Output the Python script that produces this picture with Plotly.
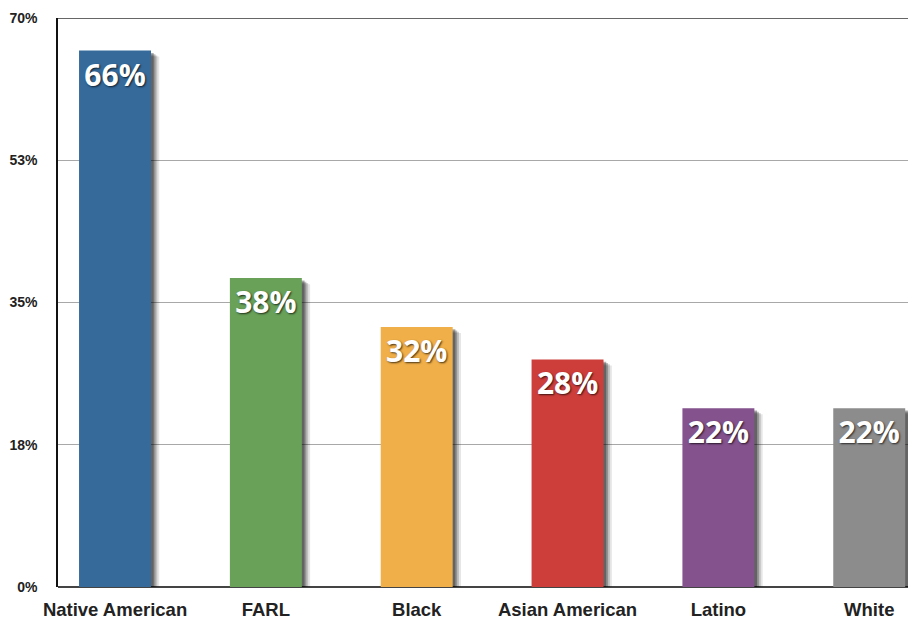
import plotly.graph_objects as go

categories = ["Native American", "FARL", "Black", "Asian American", "Latino", "White"]
values = [66, 38, 32, 28, 22, 22]
labels = ["66%", "38%", "32%", "28%", "22%", "22%"]
colors = ["#356A9B", "#69A159", "#F0AF48", "#CD3E3B", "#84528D", "#8C8C8C"]
tick_vals = [0, 17.5, 35, 52.5, 70]
tick_text = ["0%", "18%", "35%", "53%", "70%"]

BW = 0.477
fig = go.Figure()

# soft drop shadows (several layers)
for dx, base, alpha in [(0.055, -0.75, 0.10), (0.042, -0.6, 0.16), (0.030, -0.45, 0.24), (0.018, -0.3, 0.32)]:
    fig.add_trace(go.Bar(
        x=list(range(len(categories))), y=values, base=base,
        width=BW, offset=-BW / 2 + dx,
        marker=dict(color=f"rgba(0,0,0,{alpha})", line=dict(width=0)),
        hoverinfo="skip", showlegend=False, cliponaxis=False,
    ))

fig.add_trace(go.Bar(
    x=list(range(len(categories))), y=values,
    width=BW, offset=-BW / 2,
    marker=dict(color=colors, line=dict(width=0)),
    text=labels, textposition="inside", insidetextanchor="end",
    textangle=0,
    textfont=dict(family="Open Sans, Lato, sans-serif", size=30, color="white",
                  weight="bold", shadow="1px 1px 2px rgba(0,0,0,0.7)"),
    showlegend=False, cliponaxis=False,
))

fig.update_layout(
    width=908, height=614,
    margin=dict(l=50, r=0, t=10, b=35),
    paper_bgcolor="white", plot_bgcolor="white",
    barmode="overlay",
    xaxis=dict(
        range=[-0.378, 5.31],
        tickmode="array", tickvals=list(range(len(categories))), ticktext=categories,
        tickfont=dict(family="Liberation Sans, Arial, sans-serif",
                      size=18.5, color="#222", weight="bold"),
        showgrid=False, showline=False, zeroline=False, ticks="",
        ticklabelstandoff=9,
    ),
    yaxis=dict(
        range=[0, 70],
        tickmode="array", tickvals=tick_vals, ticktext=tick_text,
        tickfont=dict(family="Liberation Sans, Arial, sans-serif",
                      size=14, color="#222", weight="bold"),
        showgrid=True, gridcolor="#A8A8A8", gridwidth=1,
        showline=True, linecolor="#111", linewidth=1.5,
        zeroline=True, zerolinecolor="#444", zerolinewidth=2,
        ticks="", ticklabelstandoff=16,
    ),
    shapes=[dict(type="line", xref="paper", yref="y", x0=0, x1=1, y0=70, y1=70,
                 line=dict(color="#666", width=2))],
)

fig.write_html("out.html")
